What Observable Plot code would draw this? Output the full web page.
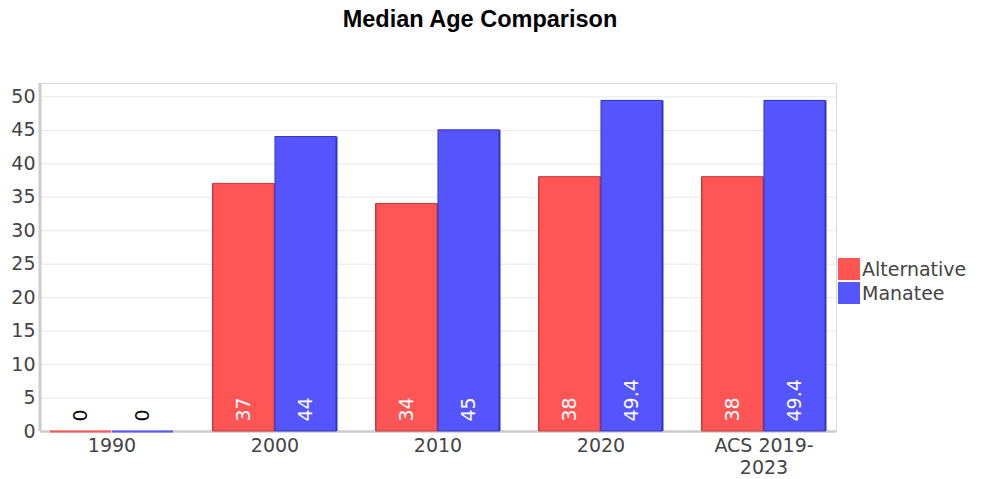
<!DOCTYPE html>
<html>
<head>
<meta charset="utf-8">
<script src="https://cdn.jsdelivr.net/npm/d3@7"></script>
<script src="https://cdn.jsdelivr.net/npm/@observablehq/plot@0.6"></script>
<style>
  html, body { margin: 0; padding: 0; background: #fff; }
  #wrap { position: relative; width: 990px; height: 479px; }
  #title { width: 960px; height: 40px; line-height: 38px; text-align: center;
           font-family: "Liberation Sans", Arial, sans-serif; font-weight: bold; font-size: 23.5px; color: #000; }
  #legend { position: absolute; left: 838px; top: 257px; font-family: "DejaVu Sans", sans-serif;
            font-size: 19px; color: #444; }
  .item { display: flex; align-items: center; height: 24px; }
  .sw { width: 22px; height: 22px; margin-right: 2px; }
</style>
</head>
<body>
<div id="wrap">
  <div id="title">Median Age Comparison</div>
  <div id="chart"></div>
  <div id="legend"></div>
</div>
<script>
const categories = ["1990", "2000", "2010", "2020", "ACS 2019-2023"];
const seriesNames = ["Alternative", "Manatee"];
const alternative = [0, 37, 34, 38, 38];
const manatee = [0, 44, 45, 49.4, 49.4];
const yTicks = [0, 5, 10, 15, 20, 25, 30, 35, 40, 45, 50];
const colors = ["#ff5555", "#5555ff"];
const strokes = ["#c43c3c", "#3434c4"];

const rows = [];
categories.forEach((c, i) => {
  rows.push({cat: c, series: seriesNames[0], value: alternative[i]});
  rows.push({cat: c, series: seriesNames[1], value: manatee[i]});
});
const redRows = rows.filter(d => d.series === seriesNames[0]);
const blueRows = rows.filter(d => d.series === seriesNames[1]);

const width = 990, height = 439;
const marginLeft = 40, marginRight = 154, marginTop = 43, marginBottom = 48;
const xOpts = {domain: categories, paddingInner: 0.244, paddingOuter: 0.049};
const bw = Plot.scale({x: {type: "band", ...xOpts, range: [marginLeft, width - marginRight]}}).bandwidth;
const half = bw / 2;

const chart = Plot.plot({
  width, height, marginLeft, marginRight, marginTop, marginBottom,
  style: {fontFamily: "DejaVu Sans, sans-serif", fontSize: "19px", color: "#444", background: "#fff", overflow: "visible"},
  x: {...xOpts, label: null},
  y: {domain: [0, 52], label: null},
  marks: [
    Plot.gridY(yTicks, {stroke: "#e8e8e8", strokeOpacity: 1}),
    Plot.frame({stroke: "#d8d8d8"}),
    Plot.ruleY([0], {stroke: "#cccccc", strokeWidth: 2.5}),
    // darker right edge (shading)
    Plot.barY(redRows, {x: "cat", y: "value", fill: strokes[0], insetRight: half - 1.5, insetLeft: -1}),
    Plot.barY(blueRows, {x: "cat", y: "value", fill: strokes[1], insetLeft: half, insetRight: -1.5}),
    Plot.barY(redRows, {x: "cat", y: "value", fill: colors[0], stroke: strokes[0], strokeWidth: 1, insetRight: half}),
    Plot.barY(blueRows, {x: "cat", y: "value", fill: colors[1], stroke: strokes[1], strokeWidth: 1, insetLeft: half}),
    Plot.tickY(redRows.filter(d => d.value === 0), {x: "cat", y: "value", stroke: colors[0], strokeWidth: 2, insetRight: half}),
    Plot.tickY(blueRows.filter(d => d.value === 0), {x: "cat", y: "value", stroke: colors[1], strokeWidth: 2, insetLeft: half}),
    Plot.text(redRows, {x: "cat", y: 0, text: d => String(d.value), dx: -half / 2, dy: -10, rotate: -90, textAnchor: "start",
      fill: d => d.value > 0 ? "white" : "black", fontSize: 19}),
    Plot.text(blueRows, {x: "cat", y: 0, text: d => String(d.value), dx: half / 2, dy: -10, rotate: -90, textAnchor: "start",
      fill: d => d.value > 0 ? "white" : "black", fontSize: 19}),
    Plot.axisY(yTicks, {tickSize: 0, tickPadding: 5, fill: "#444", label: null}),
    Plot.axisX({tickSize: 0, tickPadding: 4, fill: "#444", label: null, lineHeight: 1.2,
      tickFormat: d => d.replace("-", "-\n")})
  ]
});
document.getElementById("chart").appendChild(chart);

// left axis line
d3.select(chart).append("line")
  .attr("x1", marginLeft).attr("x2", marginLeft)
  .attr("y1", marginTop).attr("y2", height - marginBottom)
  .attr("stroke", "#cccccc").attr("stroke-width", 3);

const legend = d3.select("#legend");
seriesNames.forEach((s, i) => {
  const it = legend.append("div").attr("class", "item");
  it.append("div").attr("class", "sw").style("background", colors[i]);
  it.append("span").text(s);
});
</script>
</body>
</html>
